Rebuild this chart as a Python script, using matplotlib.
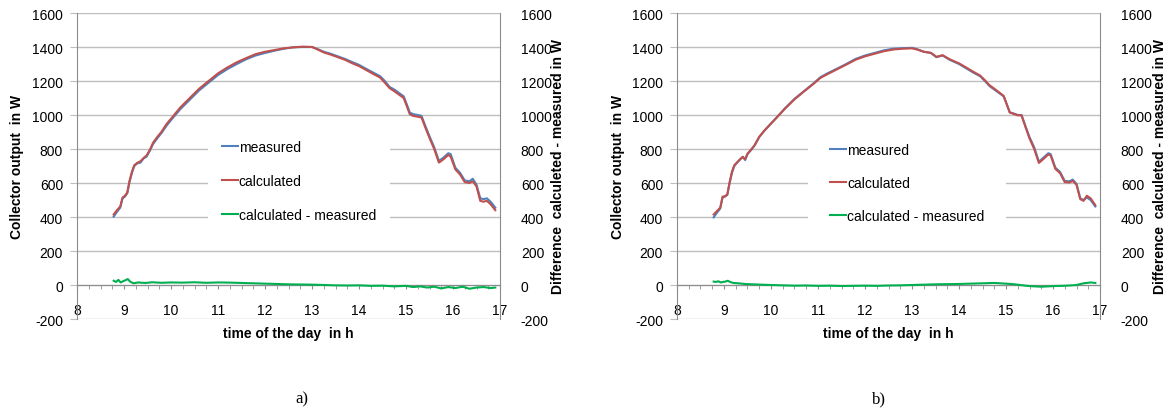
import matplotlib
matplotlib.use("Agg")
import matplotlib.pyplot as plt
from matplotlib.ticker import MultipleLocator

plt.rcParams['font.family'] = ['Liberation Sans', 'DejaVu Sans']
plt.rcParams['axes.unicode_minus'] = False

# ---- chart a) ----
time_a = [8.78, 8.85, 8.92, 8.97, 9.02, 9.07, 9.12, 9.17, 9.22, 9.28, 9.35, 9.42,
          9.48, 9.55, 9.62, 9.7, 9.8, 9.9, 10.0, 10.2, 10.4, 10.6, 10.8, 11.0,
          11.2, 11.4, 11.6, 11.8, 12.0, 12.2, 12.4, 12.6, 12.8, 13.0, 13.1, 13.25,
          13.4, 13.55, 13.7, 13.85, 14.0, 14.15, 14.3, 14.45, 14.55, 14.65, 14.75,
          14.85, 14.95, 15.02, 15.08, 15.15, 15.25, 15.33, 15.42, 15.5, 15.6, 15.7,
          15.8, 15.9, 15.95, 16.05, 16.15, 16.25, 16.35, 16.42, 16.5, 16.58, 16.65,
          16.72, 16.8, 16.9]
measured_a = [402, 430, 455, 510, 520, 540, 610, 660, 700, 715, 720, 745,
              755, 790, 830, 860, 895, 935, 970, 1035, 1090, 1145, 1190, 1235,
              1270, 1300, 1328, 1350, 1365, 1378, 1390, 1398, 1400, 1400, 1390, 1372,
              1360, 1345, 1330, 1312, 1295, 1272, 1250, 1228, 1200, 1165, 1150,
              1130, 1110, 1060, 1015, 1005, 1000, 995, 930, 875, 810, 730,
              750, 775, 770, 690, 660, 615, 610, 625, 590, 510, 505,
              510, 490, 455]
calculated_a = [415, 440, 462, 515, 525, 545, 615, 668, 705, 718, 728, 748,
                762, 795, 838, 868, 902, 945, 978, 1045, 1100, 1155, 1200, 1245,
                1280, 1310, 1335, 1358, 1372, 1382, 1392, 1398, 1402, 1400, 1388, 1368,
                1355, 1340, 1325, 1305, 1288, 1265, 1242, 1220, 1190, 1158, 1140,
                1120, 1100, 1050, 1005, 995, 990, 985, 920, 865, 800, 720,
                740, 765, 755, 680, 650, 605, 600, 610, 580, 495, 490,
                495, 475, 440]
time_diff = [8.78, 8.83, 8.88, 8.93, 8.98, 9.03, 9.08, 9.13, 9.2, 9.3, 9.45, 9.6,
             9.8, 10.0, 10.25, 10.5, 10.75, 11.0, 11.25, 11.5, 11.75, 12.0, 12.25,
             12.5, 12.75, 13.0, 13.25, 13.5, 13.75, 14.0, 14.25, 14.5, 14.75, 15.0,
             15.15, 15.3, 15.45, 15.6, 15.75, 15.9, 16.05, 16.2, 16.35, 16.5, 16.65,
             16.8, 16.9]
diff_a = [25, 18, 30, 15, 22, 28, 35, 20, 10, 15, 12, 16,
          13, 15, 14, 16, 13, 15, 14, 12, 10, 8, 6,
          4, 3, 2, 0, -2, -3, -2, -5, -4, -8, -5,
          -12, -8, -15, -10, -20, -12, -18, -10, -22, -15, -12,
          -18, -15]

# ---- chart b) ----
time_b = [8.78, 8.85, 8.92, 8.97, 9.02, 9.07, 9.12, 9.17, 9.22, 9.28, 9.35, 9.4,
          9.45, 9.5, 9.58, 9.65, 9.75, 9.85, 9.95, 10.1, 10.3, 10.5, 10.7, 10.9,
          11.05, 11.2, 11.4, 11.6, 11.8, 12.0, 12.2, 12.4, 12.6, 12.8, 13.0, 13.1,
          13.25, 13.4, 13.52, 13.65, 13.8, 14.0, 14.15, 14.3, 14.45, 14.55, 14.65,
          14.75, 14.85, 14.95, 15.02, 15.08, 15.15, 15.25, 15.33, 15.42, 15.5, 15.6,
          15.7, 15.8, 15.9, 15.95, 16.05, 16.15, 16.25, 16.35, 16.42, 16.5, 16.58,
          16.65, 16.72, 16.8, 16.9]
measured_b = [398, 425, 450, 515, 520, 530, 600, 660, 700, 720, 740, 755,
              735, 770, 795, 820, 870, 905, 935, 980, 1040, 1095, 1140, 1185,
              1222, 1245, 1272, 1300, 1330, 1350, 1365, 1380, 1390, 1393, 1395, 1388,
              1372, 1365, 1340, 1350, 1325, 1300, 1275, 1250, 1228, 1200, 1170,
              1150, 1130, 1110, 1060, 1015, 1010, 1000, 1000, 930, 870, 810,
              725, 750, 775, 770, 690, 665, 612, 610, 620, 595, 510,
              500, 515, 500, 462]
calculated_b = [415, 435, 455, 520, 522, 532, 605, 668, 705, 722, 742, 752,
                740, 772, 798, 822, 872, 905, 935, 978, 1038, 1092, 1138, 1182,
                1218, 1240, 1268, 1296, 1325, 1345, 1360, 1375, 1385, 1390, 1392, 1386,
                1372, 1366, 1342, 1352, 1328, 1304, 1280, 1255, 1232, 1205, 1175,
                1155, 1134, 1112, 1060, 1015, 1008, 998, 998, 925, 862, 800,
                718, 742, 768, 762, 683, 658, 605, 603, 612, 590, 505,
                495, 525, 510, 470]
diff_b = [20, 18, 22, 15, 18, 20, 25, 18, 12, 10, 6, 4,
          2, 0, -2, -4, -3, -5, -4, -6, -5, -4, -5,
          -3, -2, 0, 2, 4, 5, 6, 8, 10, 12, 8,
          5, 0, -5, -8, -10, -8, -6, -5, -3, 0, 10,
          15, 12]

BLUE = '#4F81BD'
RED = '#C0504D'
GREEN = '#00B050'
GRID = '#BEBEBE'
SPINE = '#8C8C8C'

fig = plt.figure(figsize=(11.74, 4.14), dpi=100)
W, H = 1174.0, 414.0


def panel(x0, t, meas, calc, diff, leg_pad, leg_y, leg_sp, ylab_x, yrlab_x, tag, tag_x):
    ax = fig.add_axes([x0 / W, 1 - 320 / H, 423 / W, 306 / H])
    ax.set_xlim(8, 17)
    ax.set_ylim(-200, 1600)
    ax.yaxis.set_major_locator(MultipleLocator(200))
    ax.xaxis.set_major_locator(MultipleLocator(1))
    ax.xaxis.set_minor_locator(MultipleLocator(0.25))
    ax.grid(axis='y', color=GRID, linewidth=1.0)
    ax.set_axisbelow(True)
    for s in ['top', 'right']:
        ax.spines[s].set_visible(False)
    ax.spines['bottom'].set_position(('data', 0))
    ax.spines['bottom'].set_color(SPINE)
    ax.spines['left'].set_color(SPINE)
    ax.tick_params(axis='y', length=5, color=GRID, labelsize=10, pad=5)
    ax.tick_params(axis='x', which='both', length=3, color=SPINE,
                   labelsize=10, pad=10)
    l1, = ax.plot(t, meas, color=BLUE, lw=1.5, label='measured')
    l2, = ax.plot(t, calc, color=RED, lw=1.5, label='calculated')

    ax2 = ax.twinx()
    ax2.set_ylim(-200, 1600)
    ax2.yaxis.set_major_locator(MultipleLocator(200))
    for s in ['top', 'left', 'bottom']:
        ax2.spines[s].set_visible(False)
    ax2.spines['right'].set_color(SPINE)
    ax2.tick_params(axis='y', length=0, labelsize=10, pad=15)
    l3, = ax2.plot(time_diff, diff, color=GREEN, lw=1.5,
                   label='calculated - measured')

    leg = ax2.legend(handles=[l1, l2, l3], loc='upper left',
                     bbox_to_anchor=(0.3097, leg_y), bbox_transform=ax.transAxes,
                     borderaxespad=0, frameon=True, fancybox=False,
                     facecolor='white', edgecolor='none', framealpha=1,
                     fontsize=10, handlelength=1.15, handletextpad=0.05,
                     labelspacing=leg_sp, borderpad=leg_pad)
    leg.get_frame().set_linewidth(0)

    fig.text(x0 / W + 211.5 / W, 1 - 334 / H, 'time of the day  in h',
             ha='center', va='center', fontsize=10, fontweight='bold')
    fig.text(ylab_x / W, 1 - 167 / H, 'Collector output  in W', rotation=90,
             ha='center', va='center', fontsize=10, fontweight='bold')
    fig.text(yrlab_x / W, 1 - 166 / H, 'Difference  calculeted - measured in W',
             rotation=90, ha='center', va='center', fontsize=10,
             fontweight='bold')
    fig.text(tag_x / W, 1 - 399 / H, tag, ha='center', va='center',
             fontsize=12, family='Liberation Serif')


panel(77, time_a, measured_a, calculated_a, diff_a, 1.0, 0.631, 1.45, 17, 558, 'a)', 302)
panel(677, time_b, measured_b, calculated_b, diff_b, 1.6, 0.647, 1.35, 618, 1160, 'b)', 879)

fig.savefig('out.png', dpi=100)
